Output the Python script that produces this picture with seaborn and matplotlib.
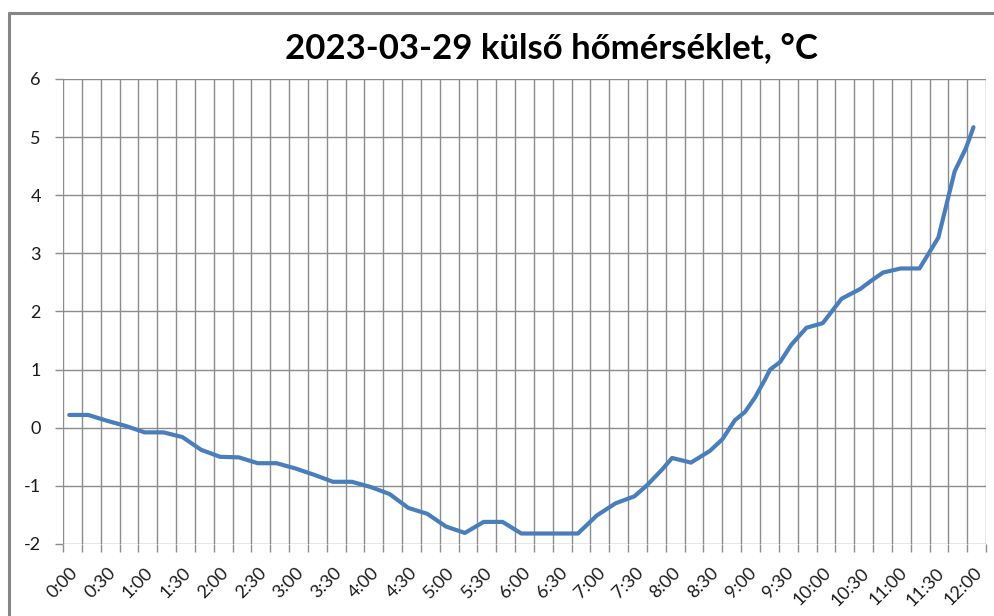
import numpy as np
import pandas as pd
import matplotlib
matplotlib.use("Agg")
import matplotlib.pyplot as plt
from matplotlib.lines import Line2D
from matplotlib.transforms import ScaledTranslation
import seaborn as sns

# readings (time of day, outside temperature in °C)
times = ["0:00", "0:15", "0:30", "0:45", "1:00", "1:15", "1:30", "1:45",
         "2:00", "2:15", "2:30", "2:45", "3:00", "3:15", "3:30", "3:45",
         "4:00", "4:15", "4:30", "4:45", "5:00", "5:15", "5:30", "5:45",
         "6:00", "6:45", "7:00", "7:15", "7:30", "7:40", "7:52", "8:00",
         "8:15", "8:30", "8:40", "8:50", "8:58", "9:06", "9:14", "9:18",
         "9:26", "9:35", "9:47", "10:00", "10:15", "10:30", "10:38", "10:48",
         "11:02", "11:17", "11:32", "11:45", "11:54", "12:00"]
temps = [0.22, 0.22, 0.12, 0.03, -0.08, -0.08, -0.16, -0.38,
         -0.50, -0.51, -0.61, -0.61, -0.70, -0.81, -0.93, -0.93,
         -1.02, -1.14, -1.38, -1.48, -1.70, -1.81, -1.62, -1.62,
         -1.82, -1.82, -1.51, -1.30, -1.18, -0.99, -0.72, -0.52,
         -0.60, -0.40, -0.20, 0.13, 0.27, 0.52, 0.83, 1.00,
         1.13, 1.43, 1.72, 1.80, 2.22, 2.39, 2.52, 2.67,
         2.74, 2.74, 3.27, 4.41, 4.81, 5.17]
x_labels = ["0:00", "0:30", "1:00", "1:30", "2:00", "2:30", "3:00", "3:30",
            "4:00", "4:30", "5:00", "5:30", "6:00", "6:30", "7:00", "7:30",
            "8:00", "8:30", "9:00", "9:30", "10:00", "10:30", "11:00", "11:30",
            "12:00"]
y_ticks = [-2, -1, 0, 1, 2, 3, 4, 5, 6]
title = "2023-03-29 külső hőmérséklet, °C"


def to_min(s):
    h, m = s.split(":")
    return int(h) * 60 + int(m)


df = pd.DataFrame({"t": [to_min(s) for s in times], "temp": temps})

sns.set_theme(style="white")
plt.rcParams["font.family"] = ["Lato", "DejaVu Sans"]

grid_c = "#8c8c8c"
fig = plt.figure(figsize=(9.94, 6.16), dpi=100)
ax = fig.add_axes([0.0634, 0.1169, 0.9286, 0.7549])

sns.lineplot(data=df, x="t", y="temp", ax=ax, color="#4a7ebb", linewidth=3.0,
             solid_capstyle="round", solid_joinstyle="round", zorder=5)

ax.set_xlim(-5, 730)
ax.set_ylim(-2, 6)

# gridlines every 15 minutes, labels every 30 minutes
ax.set_xticks(np.arange(-5, 731, 15))
ax.set_xticklabels([])
ax.set_xticks([to_min(s) for s in x_labels], minor=True)
ax.set_xticklabels(x_labels, minor=True, rotation=45, ha="right", va="center",
                   rotation_mode="anchor", fontsize=13, color="#1a1a1a")
ax.set_yticks(y_ticks)
ax.set_yticklabels([str(v) for v in y_ticks], fontsize=13, color="#1a1a1a")

ax.tick_params(axis="x", which="major", length=6, width=1, color=grid_c,
               direction="out", bottom=True)
ax.tick_params(axis="x", which="minor", length=0, pad=19)
ax.tick_params(axis="y", which="major", length=6, width=1, color=grid_c,
               direction="out", left=True, pad=10)

ax.grid(True, which="major", axis="both", color=grid_c, linewidth=1)
for s in ax.spines.values():
    s.set_visible(False)
ax.set_xlabel("")
ax.set_ylabel("")

shift = ScaledTranslation(0.06, 0, fig.dpi_scale_trans)
for lbl in ax.xaxis.get_minorticklabels():
    lbl.set_transform(lbl.get_transform() + shift)

fig.text(0.555, 0.922, title, ha="center", va="center", fontsize=25,
         fontweight="bold", color="black")

# chart frame (runs off the right and bottom of the picture)
fig.add_artist(Line2D([0.0094, 0.0094], [0, 0.979], color="#868686", linewidth=2.2,
                      transform=fig.transFigure))
fig.add_artist(Line2D([0.0094, 1.0], [0.979, 0.979], color="#868686", linewidth=2.2,
                      transform=fig.transFigure))

fig.savefig("out.png", dpi=100)
